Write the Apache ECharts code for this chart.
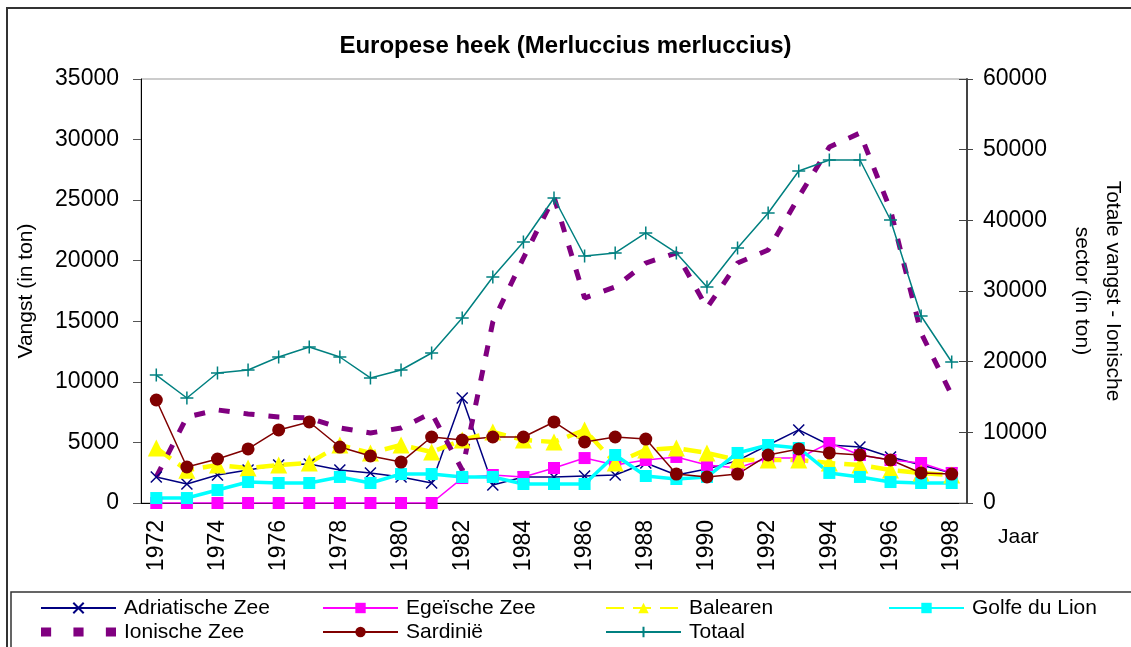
<!DOCTYPE html>
<html>
<head>
<meta charset="utf-8">
<script src="https://cdn.jsdelivr.net/npm/echarts@6/dist/echarts.min.js"></script>
<style>
html,body{margin:0;padding:0;background:#fff;}
#chartDiv{width:1131px;height:647px;}
</style>
</head>
<body>
<div id="chartDiv"></div>
<script>
// jaren
var years = ['1972','1973','1974','1975','1976','1977','1978','1979','1980','1981','1982','1983','1984','1985',
	'1986','1987','1988','1989','1990','1991','1992','1993','1994','1995','1996','1997','1998'];

// vangst per gebied (ton), linker as
var adriatische = [2150,1570,2310,2720,3140,3220,2720,2480,2150,1650,8670,1490,2150,2150,2230,2310,3300,2310,2800,3500,4790,6030,4790,4620,3800,3140,2480];
var egeische = [0,0,0,0,0,0,0,0,0,0,2060,2310,2150,2890,3710,3140,3550,3800,3140,2890,3710,3710,4950,3960,3550,3300,2480];
var balearen = [4540,2700,3140,2890,3140,3300,4790,4130,4790,4210,5200,5860,5200,5040,6030,3300,4380,4540,4130,3550,3550,3550,3300,3140,2720,2480,2310];
var golfe = [410,410,1070,1730,1650,1650,2150,1650,2390,2390,2150,2150,1570,1570,1570,3960,2230,1980,2150,4130,4790,4540,2480,2150,1730,1650,1650];
var ionische = [2150,7100,7680,7350,7100,7020,6190,5780,6190,7430,2720,14940,20220,25260,16920,17830,19810,20640,16100,19810,20880,25260,29390,30540,24190,14030,8900];
var sardinie = [8500,2970,3630,4460,6030,6690,4620,3880,3380,5450,5200,5450,5450,6690,5040,5450,5280,2390,2150,2390,3960,4460,4130,3960,3550,2480,2390];
// totaal, rechter as
var totaal = [18100,14860,18400,18820,20660,22080,20660,17690,18820,21230,26180,31980,36930,43160,34950,35380,38210,35380,30570,36080,41040,46980,48540,48540,40050,26460,19950];

var FONT = 'Liberation Sans';
var myChart = echarts.init(document.getElementById('chartDiv'));

function lineSerie(name, data, color, width, symbol, size, extra)
{
	var s = {
		name: name,
		type: 'line',
		data: data,
		symbol: symbol,
		symbolSize: size,
		showSymbol: symbol != 'none',
		animation: false,
		lineStyle: {color: color, width: width},
		itemStyle: {color: color, borderColor: color, borderWidth: 0}
	};
	if(extra){
		for(var k in extra) s[k] = extra[k];
	}
	return s;
}

var crossPath = 'path://M0,0L10,10M10,0L0,10';
var plusPath = 'path://M5,0L5,10M0,5L10,5';
var dotsPath = 'path://M0,0h10v9h-10zM32,0h10v9h-10zM64,0h10v9h-10z';

var series = [
	lineSerie('Adriatische Zee', adriatische, '#000080', 1.5, crossPath, 11,
		{itemStyle: {color: 'none', borderColor: '#000080', borderWidth: 1.5}}),
	lineSerie('Egeïsche Zee', egeische, '#FF00FF', 1.5, 'rect', 12),
	lineSerie('Balearen', balearen, '#FFFF00', 4.5, 'triangle', 17,
		{lineStyle: {color: '#FFFF00', width: 4.5, type: [18, 9]}}),
	lineSerie('Golfe du Lion', golfe, '#00FFFF', 3.5, 'rect', 12),
	lineSerie('Ionische Zee', ionische, '#800080', 5, 'none', 0,
		{lineStyle: {color: '#800080', width: 5, type: [11, 14]}}),
	lineSerie('Sardinië', sardinie, '#800000', 1.5, 'circle', 13),
	lineSerie('Totaal', totaal, '#008080', 1.5, plusPath, 13,
		{yAxisIndex: 1, itemStyle: {color: 'none', borderColor: '#008080', borderWidth: 1.5}})
];

function legendCol(left, names)
{
	return {
		orient: 'vertical',
		left: left,
		top: 597,
		itemWidth: 75,
		itemHeight: 13,
		itemGap: 2,
		padding: 0,
		data: names,
		textStyle: {fontFamily: FONT, fontSize: 21, color: '#000', lineHeight: 22, padding: [0, 0, 0, 3]}
	};
}

function plainNum(v){ return String(v); }

var option = {
	backgroundColor: '#fff',
	animation: false,
	title: {
		text: 'Europese heek (Merluccius merluccius)',
		left: 'center',
		top: 34,
		padding: 0,
		textStyle: {fontFamily: FONT, fontSize: 24, fontWeight: 'bold', color: '#000'}
	},
	legend: [
		legendCol(40, ['Adriatische Zee', {name: 'Ionische Zee', icon: dotsPath, itemStyle: {color: '#800080'}}]),
		legendCol(322, ['Egeïsche Zee', 'Sardinië']),
		legendCol(605, ['Balearen', 'Totaal']),
		legendCol(888, ['Golfe du Lion'])
	],
	grid: {
		left: 141, right: 164, top: 79, bottom: 144,
		outerBoundsMode: 'none',
		containLabel: false,
		show: true, borderColor: '#999', borderWidth: 1
	},
	xAxis: {
		type: 'category',
		data: years,
		boundaryGap: true,
		axisLine: {lineStyle: {color: '#000', width: 1}},
		axisTick: {interval: 0, length: 8, lineStyle: {color: '#000'}},
		axisLabel: {interval: 1, rotate: 90, margin: 17, fontFamily: FONT, fontSize: 23, color: '#000'},
		splitLine: {show: false}
	},
	yAxis: [
		{
			type: 'value',
			position: 'left',
			min: 0, max: 35000, interval: 5000,
			name: 'Vangst (in ton)',
			nameLocation: 'middle',
			nameGap: 104,
			nameTextStyle: {fontFamily: FONT, fontSize: 21, color: '#000'},
			axisLine: {show: true, lineStyle: {color: '#000', width: 1}},
			axisTick: {show: true, length: 8, lineStyle: {color: '#555'}},
			axisLabel: {margin: 22, fontFamily: FONT, fontSize: 23, color: '#000', formatter: plainNum},
			splitLine: {show: false}
		},
		{
			type: 'value',
			position: 'right',
			min: 0, max: 60000, interval: 10000,
			name: 'Totale vangst - Ionische\nsector (in ton)',
			nameLocation: 'middle',
			nameRotate: -90,
			nameGap: 99,
			nameTextStyle: {fontFamily: FONT, fontSize: 21, color: '#000', lineHeight: 31, align: 'center'},
			axisLine: {show: true, lineStyle: {color: '#444', width: 2}},
			axisTick: {show: true, length: 6, lineStyle: {color: '#444'}},
			axisLabel: {margin: 16, fontFamily: FONT, fontSize: 23, color: '#000', formatter: plainNum},
			splitLine: {show: false}
		},
		{
			// alleen voor de binnen-streepjes van de rechter as
			type: 'value',
			position: 'right',
			min: 0, max: 60000, interval: 10000,
			axisLine: {show: false},
			axisTick: {show: true, inside: true, length: 8, lineStyle: {color: '#444'}},
			axisLabel: {show: false},
			splitLine: {show: false}
		}
	],
	graphic: [
		{
			type: 'text',
			left: 998,
			top: 527,
			style: {text: 'Jaar', fontFamily: FONT, fontSize: 21, fill: '#000'}
		},
		{
			type: 'rect',
			shape: {x: 7, y: 8, width: 1140, height: 700},
			style: {fill: 'none', stroke: '#333', lineWidth: 2},
			silent: true
		},
		{
			type: 'rect',
			shape: {x: 11, y: 592, width: 1140, height: 100},
			style: {fill: 'none', stroke: '#333', lineWidth: 1.5},
			silent: true
		}
	],
	series: series
};

myChart.setOption(option);
</script>
</body>
</html>
